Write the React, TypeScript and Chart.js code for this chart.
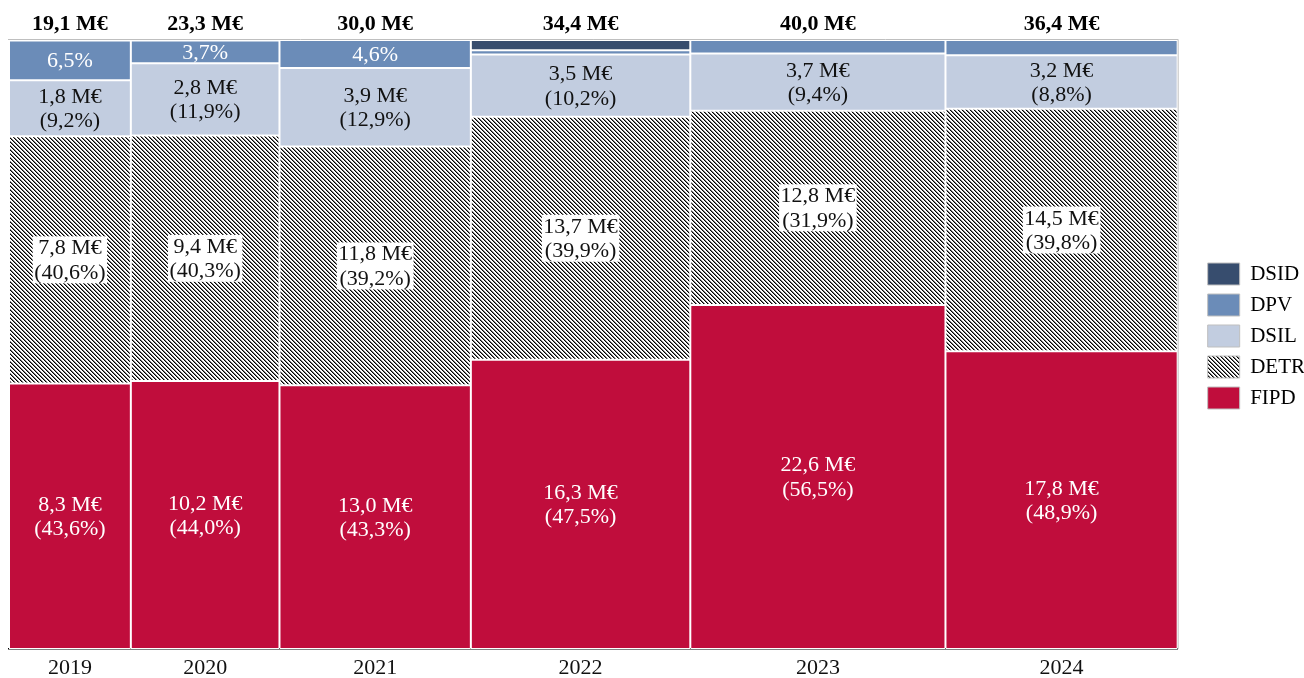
import React, { useEffect, useRef } from 'react';
import { Chart, BarController, registerables } from 'chart.js';

Chart.register(...registerables);

// ---- data ----
const years = ['2019', '2020', '2021', '2022', '2023', '2024'];
const totals = [19.1, 23.3, 30.0, 34.4, 40.0, 36.4];
const fipdPct = [43.6, 44.0, 43.3, 47.5, 56.5, 48.9];
const detrPct = [40.6, 40.3, 39.2, 39.9, 31.9, 39.8];
const dsilPct = [9.2, 11.9, 12.9, 10.2, 9.4, 8.8];
const dpvPct = [6.5, 3.7, 4.6, 0.7, 2.2, 2.5];
const dsidPct = [0, 0, 0, 1.7, 0, 0];
const fipdM = [8.3, 10.2, 13.0, 16.3, 22.6, 17.8];
const detrM = [7.8, 9.4, 11.8, 13.7, 12.8, 14.5];
const dsilM = [1.8, 2.8, 3.9, 3.5, 3.7, 3.2];

// derived: cumulative edges (bar widths proportional to totals)
const edges: number[] = totals.reduce((acc: number[], t) => {
  acc.push(+(acc[acc.length - 1] + t).toFixed(3));
  return acc;
}, [0]);
const centers = totals.map((t, i) => edges[i] + t / 2);
const totalSum = edges[edges.length - 1];

const FONT = '"Liberation Serif", "Times New Roman", serif';
const fmt = (v: number) => v.toFixed(1).replace('.', ',');

type Style = 'white' | 'boxed' | 'dark' | 'none';
interface Series {
  name: string;
  pct: number[];
  val: number[] | null;
  color: string;
  labelStyle: Style;
  pattern?: boolean;
}
const seriesList: Series[] = [
  { name: 'FIPD', pct: fipdPct, val: fipdM, color: '#C00D3C', labelStyle: 'white' },
  { name: 'DETR', pct: detrPct, val: detrM, color: '#000000', labelStyle: 'boxed', pattern: true },
  { name: 'DSIL', pct: dsilPct, val: dsilM, color: '#C2CDE0', labelStyle: 'dark' },
  { name: 'DPV', pct: dpvPct, val: null, color: '#6B8CB8', labelStyle: 'white' },
  { name: 'DSID', pct: dsidPct, val: null, color: '#374D6E', labelStyle: 'none' },
];

// ---- Marimekko controller: bar widths come from the x (linear) scale edges ----
class MekkoController extends (BarController as any) {
  _calculateBarIndexPixels(index: number) {
    const xs = (this as any)._cachedMeta.iScale;
    const a = xs.getPixelForValue(edges[index]);
    const b = xs.getPixelForValue(edges[index + 1]);
    return { base: a, head: b, center: (a + b) / 2, size: b - a };
  }
}
(MekkoController as any).id = 'mekko';
Chart.register(MekkoController as any);

function makePattern(ctx: CanvasRenderingContext2D) {
  const c = document.createElement('canvas');
  c.width = 8;
  c.height = 8;
  const g = c.getContext('2d')!;
  const shades = ['#000000', '#7a7a7a', '#ffffff', '#ffffff'];
  for (let y = 0; y < 8; y++)
    for (let x = 0; x < 8; x++) {
      g.fillStyle = shades[(((x - y) % 4) + 4) % 4];
      g.fillRect(x, y, 1, 1);
    }
  return ctx.createPattern(c, 'repeat');
}

const framePlugin = {
  id: 'frame',
  afterLayout(chart: any) {
    const lg = chart.legend;
    if (lg) {
      lg.top -= 23;
      lg.bottom -= 23;
    }
  },
  afterDatasetsDraw(chart: any) {
    const { ctx, chartArea } = chart;
    const { left, top, right, bottom } = chartArea;
    ctx.save();
    ctx.strokeStyle = '#BFBFBF';
    ctx.lineWidth = 1;
    ctx.beginPath();
    ctx.moveTo(left - 1, top - 0.5);
    ctx.lineTo(right + 0.5, top - 0.5);
    ctx.lineTo(right + 0.5, bottom);
    ctx.stroke();
    ctx.restore();
  },
};

const labelPlugin = {
  id: 'segLabels',
  afterDatasetsDraw(chart: any) {
    const ctx: CanvasRenderingContext2D = chart.ctx;
    ctx.save();
    ctx.font = `22px ${FONT}`;
    ctx.textAlign = 'center';
    ctx.textBaseline = 'middle';
    const lh = 24.5;
    seriesList.forEach((s, di) => {
      if (s.labelStyle === 'none') return;
      const meta = chart.getDatasetMeta(di);
      meta.data.forEach((el: any, i: number) => {
        const p = s.pct[i];
        let lines: string[];
        if (s.val) lines = [`${fmt(s.val[i])} M€`, `(${fmt(p)}%)`];
        else {
          if (p < 3) return;
          lines = [`${fmt(p)}%`];
        }
        const cx = el.x;
        const cy = (el.y + el.base) / 2;
        const y0 = cy - ((lines.length - 1) * lh) / 2;
        if (s.labelStyle === 'boxed') {
          const w = Math.max(...lines.map((l) => ctx.measureText(l).width)) + 3;
          const h = lines.length * 23.5;
          ctx.fillStyle = '#ffffff';
          ctx.fillRect(cx - w / 2, cy - h / 2, w, h);
        }
        ctx.fillStyle = s.labelStyle === 'white' ? '#ffffff' : '#111111';
        lines.forEach((l, k) => ctx.fillText(l, cx, y0 + k * lh + 1));
      });
    });
    // totals above bars
    ctx.font = `bold 22px ${FONT}`;
    ctx.fillStyle = '#000000';
    const meta0 = chart.getDatasetMeta(0);
    meta0.data.forEach((el: any, i: number) => {
      ctx.fillText(`${fmt(totals[i])} M€`, el.x, chart.chartArea.top - 16);
    });
    ctx.restore();
  },
};

export default function App() {
  const ref = useRef<HTMLCanvasElement>(null);
  useEffect(() => {
    const canvas = ref.current!;
    const pattern = makePattern(canvas.getContext('2d')!);
    Chart.defaults.font.family = FONT;
    Chart.defaults.font.size = 20;
    Chart.defaults.color = '#000000';
    const chart = new Chart(canvas, {
      type: 'mekko' as any,
      data: {
        datasets: seriesList.map((s) => ({
          label: s.name,
          data: s.pct.map((p, i) => ({ x: centers[i], y: p })),
          backgroundColor: s.pattern ? (pattern as any) : s.color,
          borderColor: '#ffffff',
          borderWidth: 1,
          borderSkipped: false,
        })),
      },
      options: {
        animation: false,
        responsive: true,
        maintainAspectRatio: false,
        layout: { padding: { top: 40, left: 9, right: -11, bottom: 0 } },
        scales: {
          x: {
            type: 'linear',
            min: 0,
            max: totalSum,
            offset: false,
            stacked: true,
            grid: { display: false, drawTicks: false, offset: false },
            border: { display: true, color: '#000000', width: 1.5 },
            afterBuildTicks: (scale: any) => {
              scale.ticks = centers.map((v) => ({ value: v }));
            },
            afterFit: (scale: any) => {
              scale.height = 29;
            },
            ticks: {
              autoSkip: false,
              maxRotation: 0,
              padding: 6,
              color: '#111111',
              font: { size: 22, family: FONT },
              callback: (_v: any, idx: number) => years[idx],
            },
          },
          y: {
            type: 'linear',
            min: 0,
            max: 100,
            stacked: true,
            display: false,
          },
          yR: {
            type: 'linear',
            position: 'right',
            display: true,
            grid: { display: false, drawTicks: false },
            border: { display: false },
            ticks: { display: false },
            afterFit: (scale: any) => {
              scale.width = 21;
            },
          },
        } as any,
        plugins: {
          tooltip: { enabled: false },
          legend: {
            position: 'right',
            align: 'center',
            reverse: true,
            labels: {
              boxWidth: 32,
              boxHeight: 22,
              padding: 9,
              color: '#000000',
              font: { size: 21, family: FONT },
              generateLabels: (c: any) =>
                (Chart.defaults.plugins.legend.labels as any)
                  .generateLabels(c)
                  .map((l: any) => ({ ...l, strokeStyle: '#BFBFBF', lineWidth: 1 })),
            },
          },
        },
      },
      plugins: [framePlugin, labelPlugin],
    });
    return () => chart.destroy();
  }, []);
  return (
    <div style={{ position: 'absolute', left: 0, top: 0, width: 1304, height: 678 }}>
      <canvas ref={ref} />
    </div>
  );
}
